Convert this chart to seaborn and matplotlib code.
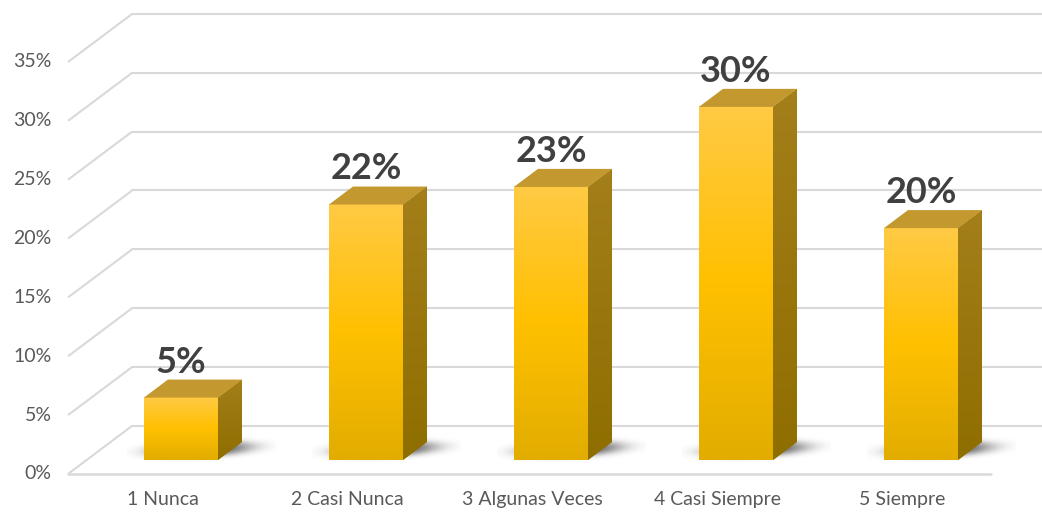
import numpy as np
import pandas as pd
import matplotlib
matplotlib.use("Agg")
import matplotlib.pyplot as plt
from matplotlib.patches import Polygon
from matplotlib.colors import LinearSegmentedColormap
import seaborn as sns

# Data
categories = ["1 Nunca", "2 Casi Nunca", "3 Algunas Veces", "4 Casi Siempre", "5 Siempre"]
values = [0.053, 0.217, 0.232, 0.300, 0.197]
tick_values = [0, 0.05, 0.10, 0.15, 0.20, 0.25, 0.30, 0.35]

# fake 3D geometry (data units)
DEPTH = np.array([0.346, 0.0408])   # full floor depth vector
FRONT_T = -0.29                     # front edge of floor, relative to bar front
BAR_T = 0.375                       # bar depth
BAR_W = 0.4
X_LEFT = -0.61                      # left edge of front plane
X_FLOOR_END = 4.38
XLIM = (-0.978, 4.654)
YLIM = (-0.0459, 0.3908)

GRID = "#D9D9D9"

sns.set_theme(style="white")
plt.rcParams["font.family"] = ["Lato", "DejaVu Sans"]

fig = plt.figure(figsize=(10.42, 5.14), dpi=100)
ax = fig.add_axes([0, 0, 1, 1])

df = pd.DataFrame({"cat": categories, "val": values})
sns.barplot(data=df, x="cat", y="val", width=BAR_W, color="#FFC000",
            saturation=1, linewidth=0, ax=ax, zorder=3)

# walls / gridlines
fy = FRONT_T * DEPTH[1]
for v in tick_values:
    x0, y0 = X_LEFT, v + fy
    x1, y1 = X_LEFT + DEPTH[0], v + fy + DEPTH[1]
    ax.plot([x0, x1], [y0, y1], color=GRID, lw=1.5, zorder=0, solid_capstyle="butt")
    ax.plot([x1, XLIM[1]], [y1, y1], color=GRID, lw=1.5, zorder=0)
    ax.text(X_LEFT - 0.09, y0, f"{v:.0%}", ha="right", va="center",
            fontsize=14, color="#595959")
ax.plot([X_LEFT, X_FLOOR_END], [fy, fy], color=GRID, lw=1.8, zorder=0)

front_cmap = LinearSegmentedColormap.from_list("front", ["#E2AD00", "#FFC000", "#FFCA45"])
side_cmap = LinearSegmentedColormap.from_list("side", ["#8F6E00", "#A47F1A"])
grad = np.linspace(0, 1, 256).reshape(-1, 1)

# soft shadow sprite (alpha falloff), reused under every bar
su, sv = np.meshgrid(np.linspace(-1, 1, 200), np.linspace(-1, 1, 60))
sv = sv - 0.25 * su                     # tilt: rises towards the back-right
r = np.sqrt(su ** 2 + (sv * 1.1) ** 2)
shadow = np.zeros((60, 200, 4))
shadow[..., :3] = 0.2
shadow[..., 3] = np.clip(0.85 * np.exp(-3.5 * r ** 3), 0, 1)
SH_HW, SH_HH = 0.4, 0.011

dx, dy = BAR_T * DEPTH
for i, p in enumerate(ax.patches):
    bx0 = p.get_x()
    w = p.get_width()
    h = p.get_height()
    bx1 = bx0 + w

    # shadow on the floor
    cx, cy = bx0 + w / 2 + 0.11, 0.0095
    ax.imshow(shadow, origin="lower", aspect="auto", interpolation="bilinear",
              extent=[cx - SH_HW, cx + SH_HW, cy - SH_HH, cy + SH_HH], zorder=1)

    # front face gradient
    ax.imshow(grad, cmap=front_cmap, origin="lower", aspect="auto",
              extent=[bx0, bx1, 0, h], clip_path=p, zorder=3.5, interpolation="bilinear")

    # side face
    side = Polygon([(bx1, 0), (bx1 + dx, dy), (bx1 + dx, h + dy), (bx1, h)],
                   closed=True, facecolor="#9C7800", edgecolor="none", zorder=3)
    ax.add_patch(side)
    ax.imshow(grad, cmap=side_cmap, origin="lower", aspect="auto",
              extent=[bx1, bx1 + dx, 0, h + dy], clip_path=side, zorder=3.5,
              interpolation="bilinear")

    # top face
    ax.add_patch(Polygon([(bx0, h), (bx1, h), (bx1 + dx, h + dy), (bx0 + dx, h + dy)],
                         closed=True, facecolor="#C3982F", edgecolor="none", zorder=4))

    # value label
    ax.text(i, h + dy + 0.006, f"{values[i]:.0%}", ha="center", va="baseline",
            fontsize=26, fontweight="bold", color="#404040", zorder=5)

    # category label on front plane
    ax.text(i - 0.1, -0.034, categories[i], ha="center", va="center",
            fontsize=14, color="#595959")

ax.set_xlim(*XLIM)
ax.set_ylim(*YLIM)
ax.set_axis_off()

fig.savefig("out.png", dpi=100, facecolor="white")
